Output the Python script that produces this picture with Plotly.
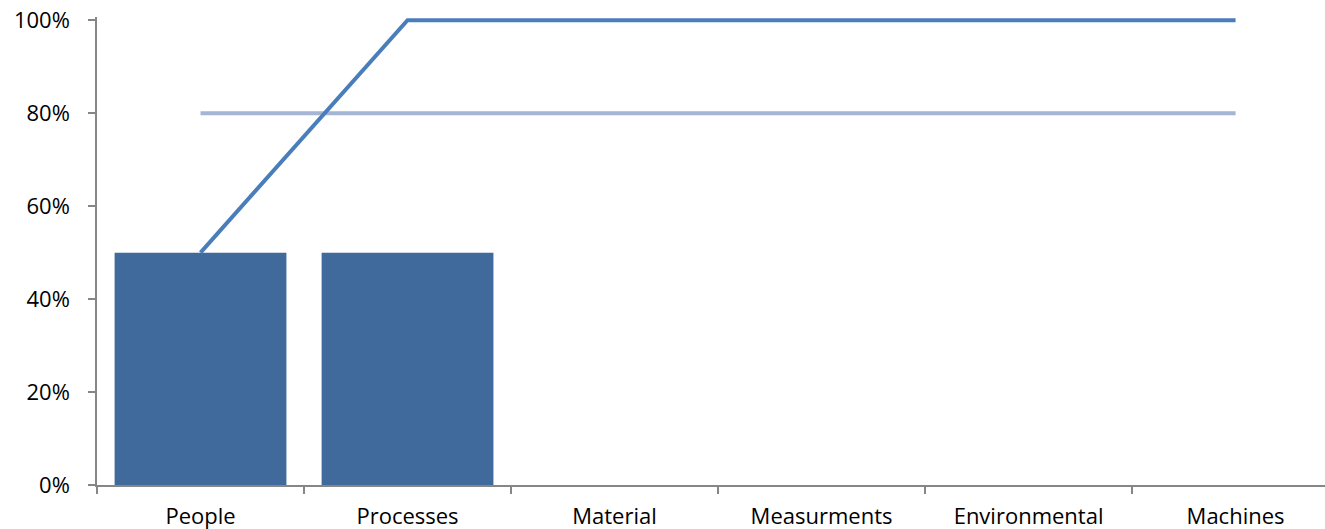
import plotly.graph_objects as go

categories = ["People", "Processes", "Material", "Measurments", "Environmental", "Machines"]
share = [0.5, 0.5, 0, 0, 0, 0]
cumulative = [0.5, 1.0, 1.0, 1.0, 1.0, 1.0]
threshold = [0.8, 0.8, 0.8, 0.8, 0.8, 0.8]
y_ticks = [0, 0.2, 0.4, 0.6, 0.8, 1.0]
y_tick_labels = ["0%", "20%", "40%", "60%", "80%", "100%"]

fig = go.Figure()
fig.add_trace(go.Bar(x=categories, y=share, marker=dict(color="#416A9C", line=dict(width=0)),
                     showlegend=False))
fig.add_trace(go.Scatter(x=categories, y=threshold, mode="lines",
                         line=dict(color="#A5B5D6", width=4), showlegend=False))
fig.add_trace(go.Scatter(x=categories, y=cumulative, mode="lines",
                         line=dict(color="#4A7EBB", width=4), showlegend=False))

axis_font = dict(family="Open Sans, Liberation Sans, sans-serif", size=22, color="#000000")

fig.update_layout(
    width=1325, height=529,
    margin=dict(l=97, r=0, t=17, b=44),
    paper_bgcolor="white", plot_bgcolor="white",
    bargap=0.17,
    xaxis=dict(type="category", range=[-0.5, 5.432], tickson="boundaries",
               ticks="outside", ticklen=7, tickcolor="#868686", tickwidth=1.5,
               showline=True, linecolor="#868686", linewidth=1.5,
               showgrid=False, tickfont=axis_font, ticklabelstandoff=11),
    yaxis=dict(range=[0, 1.007], tickvals=y_ticks, ticktext=y_tick_labels,
               ticks="outside", ticklen=7, tickcolor="#868686", tickwidth=1.5,
               showline=True, linecolor="#868686", linewidth=1.5,
               showgrid=False, zeroline=False, tickfont=axis_font, ticklabelstandoff=14),
)

fig.write_html("out.html")
